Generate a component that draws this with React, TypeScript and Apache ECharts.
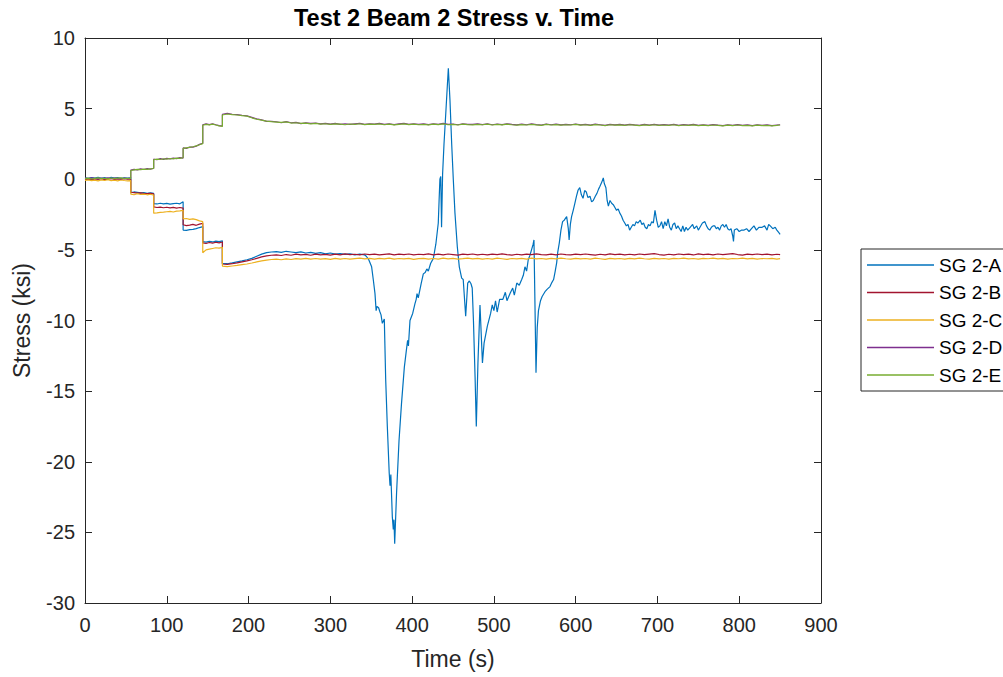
import React, { useEffect, useRef } from "react";
import * as echarts from "echarts";

// Shared time stamps (s) for SG 2-B .. SG 2-E (duplicated stamps mark the load steps)
const timeShared = [
  0, 4, 8, 12, 16, 20, 24, 28, 32, 36, 40, 44, 48, 52, 56,
  56, 60, 64, 68, 72, 76, 80, 84,
  84, 88, 92, 96, 100, 104, 108, 112, 116, 120,
  120, 124, 128, 132, 136, 140, 144,
  144, 148, 152, 156, 160, 164, 168,
  168,
  174, 180, 186, 192, 198, 204, 210, 216, 222, 228,
  234, 240, 246, 252, 258, 264, 270, 276, 282, 288,
  294, 300, 306, 312, 318, 324, 330, 336, 342, 348,
  354, 360, 366, 372, 378, 384, 390, 396, 402, 408,
  414, 420, 426, 432, 438, 444, 450, 456, 462, 468,
  474, 480, 486, 492, 498, 504, 510, 516, 522, 528,
  534, 540, 546, 552, 558, 564, 570, 576, 582, 588,
  594, 600, 606, 612, 618, 624, 630, 636, 642, 648,
  654, 660, 666, 672, 678, 684, 690, 696, 702, 708,
  714, 720, 726, 732, 738, 744, 750, 756, 762, 768,
  774, 780, 786, 792, 798, 804, 810, 816, 822, 828,
  834, 840, 846, 850,
];

const stressB = [
  -0.02, 0.03, -0.04, 0.02, -0.01, 0.04, -0.03, 0.01, 0.05, -0.02, 0.03, -0.01, 0.04, 0.0, 0.02,
  -0.92, -0.95, -0.98, -0.96, -1.0, -1.02, -0.99, -1.04,
  -1.95, -2.0, -1.97, -2.02, -1.98, -2.03, -1.99, -2.04, -2.0, -2.05,
  -3.22, -3.28, -3.25, -3.2, -3.26, -3.18, -3.12,
  -4.5, -4.55, -4.48, -4.52, -4.46, -4.5, -4.44,
  -6.0,
  -6.02, -5.98, -5.92, -5.85, -5.78, -5.7, -5.6, -5.5, -5.42, -5.38,
  -5.35, -5.4, -5.33, -5.38, -5.3, -5.36, -5.32, -5.38, -5.3, -5.35,
  -5.32, -5.37, -5.3, -5.35, -5.28, -5.34, -5.31, -5.36, -5.29, -5.34,
  -5.3, -5.36, -5.32, -5.28, -5.35, -5.3, -5.34, -5.29, -5.36, -5.31,
  -5.33, -5.28, -5.35, -5.3, -5.36, -5.29, -5.33, -5.37, -5.3, -5.34,
  -5.29, -5.35, -5.31, -5.36, -5.3, -5.34, -5.28, -5.33, -5.37, -5.31,
  -5.35, -5.3, -5.34, -5.28, -5.33, -5.36, -5.3, -5.35, -5.29, -5.33,
  -5.36, -5.3, -5.34, -5.29, -5.33, -5.37, -5.31, -5.35, -5.28, -5.34,
  -5.3, -5.35, -5.31, -5.36, -5.29, -5.34, -5.3, -5.26, -5.33, -5.37,
  -5.31, -5.35, -5.29, -5.34, -5.3, -5.36, -5.28, -5.33, -5.3, -5.35,
  -5.29, -5.34, -5.3, -5.26, -5.33, -5.37, -5.3, -5.34, -5.29, -5.33,
  -5.3, -5.35, -5.31, -5.34,
];

const stressC = [
  -0.08, -0.04, -0.1, -0.06, -0.12, -0.05, -0.09, -0.03, -0.1, -0.07, -0.11, -0.05, -0.09, -0.12, -0.1,
  -1.05, -1.1, -1.02, -1.08, -1.05, -1.1, -1.06, -1.12,
  -2.4, -2.38, -2.35, -2.33, -2.3, -2.28, -2.32, -2.26, -2.24, -2.2,
  -2.8, -2.78, -2.84, -2.8, -2.86, -2.95, -3.0,
  -5.2, -5.0, -4.95, -4.9, -4.85, -4.88, -4.82,
  -6.15,
  -6.18, -6.14, -6.1, -6.05, -6.0, -5.93, -5.85, -5.78, -5.72, -5.68,
  -5.66, -5.7, -5.64, -5.68, -5.62, -5.66, -5.6, -5.65, -5.61, -5.66,
  -5.62, -5.67, -5.6, -5.65, -5.61, -5.66, -5.62, -5.58, -5.64, -5.6,
  -5.65, -5.6, -5.64, -5.59, -5.66, -5.61, -5.64, -5.6, -5.67, -5.62,
  -5.6, -5.65, -5.61, -5.66, -5.59, -5.64, -5.6, -5.65, -5.62, -5.58,
  -5.64, -5.6, -5.66, -5.61, -5.65, -5.59, -5.63, -5.67, -5.61, -5.64,
  -5.6, -5.65, -5.59, -5.64, -5.61, -5.66, -5.6, -5.64, -5.58, -5.63,
  -5.66, -5.6, -5.64, -5.61, -5.65, -5.59, -5.63, -5.67, -5.6, -5.64,
  -5.61, -5.65, -5.6, -5.64, -5.58, -5.63, -5.66, -5.6, -5.64, -5.61,
  -5.65, -5.6, -5.63, -5.58, -5.64, -5.61, -5.66, -5.6, -5.63, -5.59,
  -5.64, -5.6, -5.65, -5.61, -5.63, -5.58, -5.64, -5.6, -5.66, -5.61,
  -5.63, -5.6, -5.65, -5.62,
];

const stressD = [
  0.08, 0.04, 0.1, 0.06, 0.03, 0.09, 0.05, 0.1, 0.04, 0.08, 0.06, 0.02, 0.09, 0.05, 0.08,
  0.65, 0.7, 0.66, 0.73, 0.69, 0.75, 0.72, 0.78,
  1.42, 1.38, 1.46, 1.41, 1.48, 1.44, 1.5, 1.46, 1.53, 1.5,
  2.22, 2.19, 2.28, 2.27, 2.34, 2.47, 2.55,
  3.86, 3.92, 3.87, 3.93, 3.86, 3.8, 3.77,
  4.6,
  4.66, 4.6, 4.58, 4.53, 4.49, 4.38, 4.27, 4.2, 4.1, 4.1,
  4.07, 4.0, 4.08, 4.0, 4.03, 3.94, 3.99, 3.95, 3.98, 3.92,
  3.96, 3.9, 3.95, 3.89, 3.93, 3.88, 3.92, 3.95, 3.89, 3.93,
  3.9, 3.95, 3.88, 3.93, 3.87, 3.92, 3.95, 3.89, 3.93, 3.88,
  3.92, 3.87, 3.93, 3.89, 3.95, 3.88, 3.91, 3.86, 3.93, 3.89,
  3.88, 3.92, 3.87, 3.93, 3.86, 3.91, 3.87, 3.93, 3.88, 3.85,
  3.9, 3.86, 3.92, 3.87, 3.84, 3.9, 3.86, 3.9, 3.85, 3.89,
  3.86, 3.91, 3.85, 3.89, 3.84, 3.9, 3.86, 3.82, 3.89, 3.85,
  3.88, 3.83, 3.89, 3.85, 3.82, 3.88, 3.84, 3.89, 3.83, 3.87,
  3.84, 3.89, 3.82, 3.87, 3.83, 3.88, 3.81, 3.86, 3.82, 3.87,
  3.83, 3.8, 3.86, 3.82, 3.87, 3.81, 3.85, 3.8, 3.86, 3.82,
  3.85, 3.8, 3.84, 3.86,
];

const stressE = [
  0.05, 0.08, 0.02, 0.06, 0.1, 0.04, 0.07, 0.03, 0.09, 0.05, 0.08, 0.1, 0.04, 0.07, 0.05,
  0.62, 0.66, 0.7, 0.68, 0.72, 0.7, 0.74, 0.76,
  1.38, 1.42, 1.4, 1.45, 1.43, 1.47, 1.44, 1.5, 1.48, 1.52,
  2.18, 2.22, 2.26, 2.3, 2.36, 2.44, 2.52,
  3.82, 3.88, 3.85, 3.9, 3.84, 3.78, 3.74,
  4.55,
  4.62, 4.58, 4.55, 4.5, 4.47, 4.35, 4.25, 4.18, 4.12, 4.08,
  4.05, 4.02, 4.06, 3.98, 4.0, 3.95, 3.97, 3.92, 3.96, 3.9,
  3.93, 3.88, 3.92, 3.9, 3.86, 3.91, 3.88, 3.93, 3.87, 3.9,
  3.88, 3.92, 3.86, 3.9, 3.85, 3.89, 3.92, 3.87, 3.9, 3.86,
  3.89, 3.85, 3.9, 3.87, 3.92, 3.86, 3.88, 3.84, 3.9, 3.87,
  3.85, 3.89, 3.86, 3.9, 3.84, 3.88, 3.85, 3.9, 3.86, 3.83,
  3.87, 3.84, 3.89, 3.85, 3.82, 3.88, 3.84, 3.87, 3.83, 3.86,
  3.84, 3.88, 3.83, 3.86, 3.82, 3.87, 3.84, 3.8, 3.86, 3.83,
  3.85, 3.81, 3.86, 3.83, 3.8, 3.85, 3.82, 3.86, 3.81, 3.84,
  3.82, 3.86, 3.8, 3.84, 3.81, 3.85, 3.79, 3.83, 3.8, 3.84,
  3.81, 3.78, 3.83, 3.8, 3.84, 3.79, 3.82, 3.78, 3.83, 3.8,
  3.82, 3.78, 3.81, 3.84,
];

// SG 2-A: [time (s), stress (ksi)]
const sg2A: [number, number][] = [
  [0, 0.1], [4, 0.06], [8, 0.12], [12, 0.08], [16, 0.14], [20, 0.07], [24, 0.11], [28, 0.05],
  [32, 0.13], [36, 0.09], [40, 0.12], [44, 0.06], [48, 0.1], [52, 0.08], [56, 0.1],
  [56, -0.95], [60, -0.9], [64, -0.93], [68, -0.97], [72, -0.94], [76, -0.99], [80, -0.96], [84, -1.0],
  [84, -1.72], [88, -1.75], [92, -1.7], [96, -1.74], [100, -1.71], [104, -1.76], [108, -1.72],
  [112, -1.7], [116, -1.74], [120, -1.6],
  [120, -3.6], [124, -3.62], [128, -3.57], [132, -3.55], [136, -3.5], [140, -3.42], [144, -3.35],
  [144, -4.42], [148, -4.45], [152, -4.4], [156, -4.44], [160, -4.38], [164, -4.42], [168, -4.36],
  [168, -5.95], [174, -5.98], [180, -5.92], [186, -5.85], [192, -5.78], [198, -5.7], [204, -5.6],
  [210, -5.45], [216, -5.3], [222, -5.2], [228, -5.15],
  [234, -5.12], [240, -5.18], [246, -5.1], [252, -5.15], [258, -5.2], [264, -5.14], [270, -5.22],
  [276, -5.18], [282, -5.25], [288, -5.2],
  [294, -5.28], [300, -5.22], [306, -5.3], [312, -5.26], [318, -5.32], [324, -5.28], [330, -5.35],
  [336, -5.3], [342, -5.36],
  [344, -5.45], [347, -5.7], [350.5, -6.2], [352.5, -7.1], [354.6, -8.1], [356, -9.3], [357, -9.0],
  [359, -9.1], [360.7, -9.4], [362, -9.6], [363.6, -10.2], [366, -9.9], [367.7, -14.2], [369.7, -17.5],
  [372, -20.8], [373, -21.7], [374, -20.9], [375.8, -23.9], [377, -24.8], [377.8, -24.1], [378.7, -25.8],
  [381, -22.2], [384, -18.5], [387, -15.9], [390.5, -13.3], [393, -12.1], [394.5, -11.4], [395.5, -11.8],
  [397.4, -10.0], [400.7, -9.5], [403.5, -8.8], [405, -8.5], [406, -8.1], [407.5, -8.4], [411, -7.4],
  [413.7, -6.7], [416, -6.6], [418, -6.35], [419.8, -6.5], [422.7, -5.95], [426, -5.6], [429, -4.6],
  [432, -3.1], [433, -1.5], [434, 0.0], [435, 0.2], [436, -3.4], [437.3, 0.4], [439, 2.5], [441.4, 4.9],
  [443, 6.55], [444.3, 7.85], [446.3, 5.6], [448.4, 2.5], [450.4, -0.05], [452.4, -2.4], [455.3, -4.8],
  [457.7, -6.2], [460.6, -7.0], [462.5, -7.1], [465.5, -9.7], [468, -7.35], [470, -7.2], [472, -7.4],
  [473.5, -7.7], [475, -10.0], [477, -14.0], [478.5, -17.5], [480.5, -13.0], [483, -8.9], [486, -13.0],
  [488, -11.6], [492, -10.4], [496, -9.5], [498, -8.9], [500, -9.3], [502, -8.6], [504, -9.4],
  [507, -8.5], [511, -8.5], [514, -8.0], [516, -8.6], [520, -8.05], [523, -7.7], [525, -8.2],
  [528, -7.35], [531, -7.5], [534, -7.1], [536, -6.8], [538, -6.2], [540, -6.5], [542, -5.7],
  [544, -5.4], [546, -5.0], [548, -4.6], [549, -4.3], [550, -8.0], [551.5, -13.7], [553, -10.5],
  [554.5, -9.3], [557, -8.6], [559, -8.3], [562.5, -7.96], [565, -7.8], [568.6, -7.6], [571, -7.3],
  [573, -7.1], [575, -6.5], [576.8, -5.9], [578, -5.2], [580, -4.5], [582, -3.6], [584, -3.0],
  [586, -2.9], [589, -2.65], [591, -3.5], [592, -4.3], [593.5, -3.2], [595, -2.65], [597, -2.2],
  [599, -1.7], [601, -1.2], [603, -0.76], [605, -0.6], [607, -1.1], [609, -1.35], [611, -0.8],
  [613, -0.9], [615, -1.3], [617.5, -1.2], [619.5, -1.6], [621.5, -1.5], [624, -1.2], [626, -1.0],
  [628, -0.7], [629.7, -0.5], [632, -0.2], [633.8, 0.1], [635, -0.3], [637, -0.6], [638.5, -1.5],
  [640, -1.9], [642, -1.5], [644, -1.7], [646, -1.8], [648, -2.0], [650, -2.2], [652, -2.1],
  [654, -2.4], [656, -2.6], [658, -2.9], [660, -3.1], [662, -3.3], [664, -3.2], [666, -3.6],
  [668, -3.4], [670, -3.2], [672, -3.3], [674, -3.0], [676, -3.1], [679, -2.9], [681, -3.2],
  [683, -3.1], [685, -3.4], [687, -3.5], [689, -3.2], [691, -3.3], [693, -3.0], [695, -3.1],
  [697, -2.2], [699, -2.9], [701, -3.4], [703, -3.3], [705, -3.0], [707, -3.5], [709, -3.0],
  [711, -3.3], [713, -2.8], [715, -3.4], [717, -3.6], [719, -3.2], [721, -3.1], [723, -3.5],
  [725, -3.3], [727, -3.5], [729, -3.7], [731, -3.3], [733, -3.7], [735, -3.4], [737, -3.6],
  [740, -3.4], [743, -3.2], [745, -3.5], [748, -3.3], [750, -3.6], [752, -3.4], [755, -3.1],
  [758, -3.0], [760, -3.3], [762, -3.5], [764, -3.6], [766, -3.4], [768, -3.3], [770, -3.3],
  [772, -3.5], [774, -3.4], [776, -3.6], [778, -3.3], [780, -3.2], [782, -3.4], [784, -3.2],
  [786, -3.5], [788, -3.6], [790, -3.5], [792, -4.0], [793, -4.4], [794, -3.6], [797, -3.5],
  [800, -3.7], [803, -3.6], [806, -3.6], [809, -3.5], [812, -3.7], [815, -3.5], [818, -3.3],
  [821, -3.6], [824, -3.4], [828, -3.4], [831, -3.3], [834, -3.6], [836, -3.2], [838, -3.3],
  [841, -3.5], [844, -3.4], [846, -3.6], [848, -3.75], [850, -3.9],
];

const seriesNames = ["SG 2-A", "SG 2-B", "SG 2-C", "SG 2-D", "SG 2-E"];
const seriesColors = ["#0072BD", "#A2142F", "#EDB120", "#7E2F8E", "#77AC30"];

const FONT = '"Liberation Sans", Arial, Helvetica, sans-serif';
const AXIS_COLOR = "#262626";

function zip(t: number[], v: number[]): [number, number][] {
  const n = Math.min(t.length, v.length);
  const out: [number, number][] = [];
  for (let i = 0; i < n; i++) out.push([t[i], v[i]]);
  return out;
}

export default function App() {
  const ref = useRef<HTMLDivElement>(null);

  useEffect(() => {
    if (!ref.current) return;
    const chart = echarts.init(ref.current, undefined, { renderer: "svg" });

    const seriesData = [
      sg2A,
      zip(timeShared, stressB),
      zip(timeShared, stressC),
      zip(timeShared, stressD),
      zip(timeShared, stressE),
    ];

    const axisLine = { show: true, onZero: false, lineStyle: { color: AXIS_COLOR, width: 1 } };
    const axisTick = { show: true, inside: true, length: 7, lineStyle: { color: AXIS_COLOR, width: 1 } };

    chart.setOption({
      animation: false,
      backgroundColor: "#ffffff",
      grid: { left: 85, top: 38, right: 182, bottom: 74, containLabel: false },
      graphic: [
        {
          type: "text",
          x: 454,
          y: 18,
          style: {
            text: "Test 2 Beam 2 Stress v. Time",
            fill: "#000000",
            fontSize: 23.5,
            fontWeight: "bold",
            fontFamily: FONT,
            align: "center",
            verticalAlign: "middle",
          },
        },
      ],
      legend: {
        data: seriesNames,
        orient: "vertical",
        left: 861,
        top: 249,
        icon: "rect",
        itemWidth: 67,
        itemHeight: 1.5,
        itemGap: 7.5,
        padding: [6, 24, 6, 6],
        backgroundColor: "#ffffff",
        borderColor: AXIS_COLOR,
        borderWidth: 1,
        borderRadius: 0,
        textStyle: { fontSize: 19, lineHeight: 20, color: "#000000", fontFamily: FONT },
      },
      xAxis: [
        {
          type: "value",
          position: "bottom",
          min: 0,
          max: 900,
          interval: 100,
          axisLine,
          axisTick,
          splitLine: { show: false },
          axisLabel: { margin: 12, fontSize: 20, color: AXIS_COLOR, fontFamily: FONT },
          name: "Time (s)",
          nameLocation: "middle",
          nameGap: 44,
          nameTextStyle: { fontSize: 23, color: AXIS_COLOR, fontFamily: FONT },
        },
        {
          type: "value",
          position: "top",
          min: 0,
          max: 900,
          interval: 100,
          axisLine,
          axisTick,
          splitLine: { show: false },
          axisLabel: { show: false },
        },
      ],
      yAxis: [
        {
          type: "value",
          position: "left",
          min: -30,
          max: 10,
          interval: 5,
          axisLine,
          axisTick,
          splitLine: { show: false },
          axisLabel: { margin: 10, fontSize: 20, color: AXIS_COLOR, fontFamily: FONT },
          name: "Stress (ksi)",
          nameLocation: "middle",
          nameGap: 52,
          nameRotate: 90,
          nameTextStyle: { fontSize: 23, color: AXIS_COLOR, fontFamily: FONT },
        },
        {
          type: "value",
          position: "right",
          min: -30,
          max: 10,
          interval: 5,
          axisLine,
          axisTick,
          splitLine: { show: false },
          axisLabel: { show: false },
        },
      ],
      series: seriesNames.map((name, i) => ({
        name,
        type: "line",
        xAxisIndex: 0,
        yAxisIndex: 0,
        data: seriesData[i],
        symbol: "none",
        showSymbol: false,
        color: seriesColors[i],
        lineStyle: { color: seriesColors[i], width: 1.2 },
        z: 2 + i,
        clip: true,
      })),
    });

    return () => chart.dispose();
  }, []);

  return (
    <div
      ref={ref}
      style={{ position: "absolute", left: 0, top: 0, width: 1003, height: 677, background: "#fff" }}
    />
  );
}
